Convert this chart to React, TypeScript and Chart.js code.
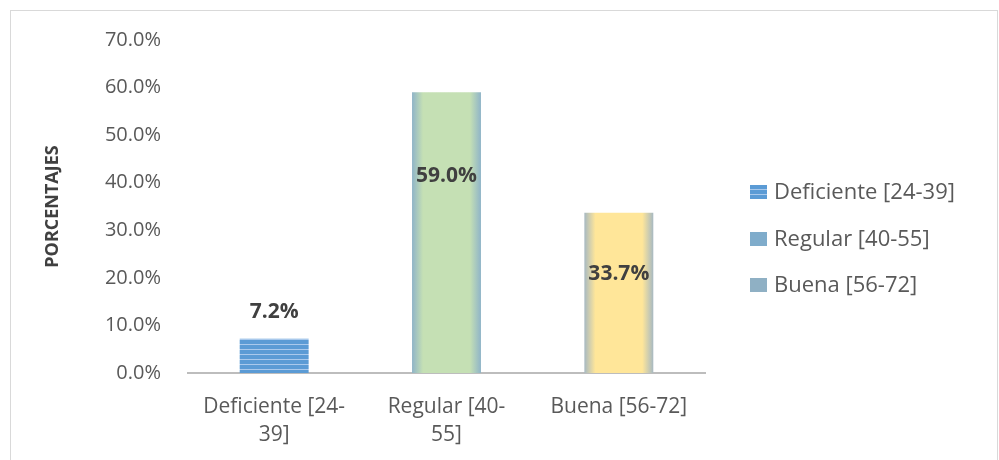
import React, { useEffect, useRef } from "react";
import { Chart, registerables } from "chart.js";

Chart.register(...registerables);

const categories: string[][] = [["Deficiente [24-", "39]"], ["Regular [40-", "55]"], ["Buena [56-72]"]];
const legendLabels: string[] = ["Deficiente [24-39]", "Regular [40-55]", "Buena [56-72]"];
const values: number[] = [7.2, 59.0, 33.7];
const yMax = 70;
const yStep = 10;

const FONT = "'Open Sans', 'Liberation Sans', sans-serif";
const TEXT = "#595959";
const LABEL_DY = [-27, 84, 61];
const BAR_PCT = 0.4;

function stripePattern(): CanvasPattern | string {
  const c = document.createElement("canvas");
  c.width = 8;
  c.height = 5;
  const g = c.getContext("2d");
  if (!g) return "#5b9bd5";
  g.fillStyle = "#5b9bd5";
  g.fillRect(0, 0, 8, 5);
  g.fillStyle = "#a9c9ec";
  g.fillRect(0, 4, 8, 1);
  return g.createPattern(c, "repeat") || "#5b9bd5";
}

const edgeColors = ["#5b9bd5", "#8fb4c8", "#a7b9c2"];
const centerColors = ["#5b9bd5", "#c5e0b4", "#ffe699"];

const dataLabelPlugin = {
  id: "dataLabels",
  afterDatasetsDraw(chart: any) {
    const ctx = chart.ctx;
    const meta = chart.getDatasetMeta(0);
    ctx.save();
    ctx.font = `bold 21px ${FONT}`;
    ctx.fillStyle = "#404040";
    ctx.textAlign = "center";
    ctx.textBaseline = "middle";
    meta.data.forEach((bar: any, i: number) => {
      ctx.fillText(values[i].toFixed(1) + "%", bar.x, bar.y + LABEL_DY[i]);
    });
    ctx.restore();
  },
};

const legendPlugin = {
  id: "customLegend",
  afterDraw(chart: any) {
    const ctx = chart.ctx;
    const x0 = 750;
    const ys = [192, 239, 285];
    const legendFills = [stripePattern(), "#7faccb", "#8fb0c4"];
    ctx.save();
    ctx.font = `22px ${FONT}`;
    ctx.textBaseline = "middle";
    ctx.textAlign = "left";
    legendLabels.forEach((lab, i) => {
      ctx.fillStyle = legendFills[i];
      ctx.fillRect(x0, ys[i] - 7, 17, 14);
      ctx.fillStyle = TEXT;
      ctx.fillText(lab, x0 + 24, ys[i] + 1);
    });
    ctx.restore();
  },
};

export default function App() {
  const ref = useRef<HTMLCanvasElement>(null);
  useEffect(() => {
    if (!ref.current) return;
    const stripes = stripePattern();
    const chart = new Chart(ref.current, {
      type: "bar",
      data: {
        labels: categories as any,
        datasets: [
          {
            data: values,
            barPercentage: BAR_PCT,
            categoryPercentage: 1,
            borderWidth: 0,
            backgroundColor: (c: any) => {
              const chart = c.chart;
              const i = c.dataIndex;
              if (i === 0) return stripes;
              const area = chart.chartArea;
              const xs = chart.scales && chart.scales.x;
              if (!area || !xs || i === undefined) return centerColors[i ?? 1];
              const cx = xs.getPixelForValue(i);
              const half = (area.width / categories.length) * BAR_PCT / 2;
              const g = chart.ctx.createLinearGradient(cx - half, 0, cx + half, 0);
              g.addColorStop(0, edgeColors[i]);
              g.addColorStop(0.16, centerColors[i]);
              g.addColorStop(0.84, centerColors[i]);
              g.addColorStop(1, edgeColors[i]);
              return g;
            },
          },
        ],
      },
      options: {
        animation: false,
        responsive: false,
        maintainAspectRatio: false,
        layout: { padding: { left: 42, right: 294, top: 40, bottom: 0 } },
        plugins: { legend: { display: false }, tooltip: { enabled: false } },
        scales: {
          x: {
            grid: { display: false, drawTicks: false },
            border: { display: true, color: "#bdbdbd", width: 2 },
            ticks: { color: TEXT, font: { family: FONT, size: 21, lineHeight: 1.33 }, padding: 20, maxRotation: 0, autoSkip: false },
            afterFit: (s: any) => { s.height = 87; },
          },
          y: {
            min: 0,
            max: yMax,
            grid: { display: false, drawTicks: false },
            border: { display: false },
            ticks: {
              stepSize: yStep,
              color: TEXT,
              font: { family: FONT, size: 20 },
              padding: 27,
              callback: (v: any) => Number(v).toFixed(1) + "%",
            },
            title: {
              display: true,
              text: "PORCENTAJES",
              color: "#404040",
              font: { family: FONT, size: 18, weight: "bold", lineHeight: 1.2 },
              padding: { top: 0, bottom: 0 },
            },
            afterFit: (s: any) => { s.width = 146; },
          },
        },
      },
      plugins: [dataLabelPlugin, legendPlugin],
    });
    return () => chart.destroy();
  }, []);
  return (
    <div style={{ position: "fixed", left: 0, top: 0, width: 999, height: 460, background: "#fff" }}>
      <div style={{ position: "absolute", left: 10, top: 10, width: 986, height: 470, border: "1px solid #d9d9d9" }} />
      <canvas ref={ref} width={999} height={460} style={{ position: "absolute", left: 0, top: 0 }} />
    </div>
  );
}
